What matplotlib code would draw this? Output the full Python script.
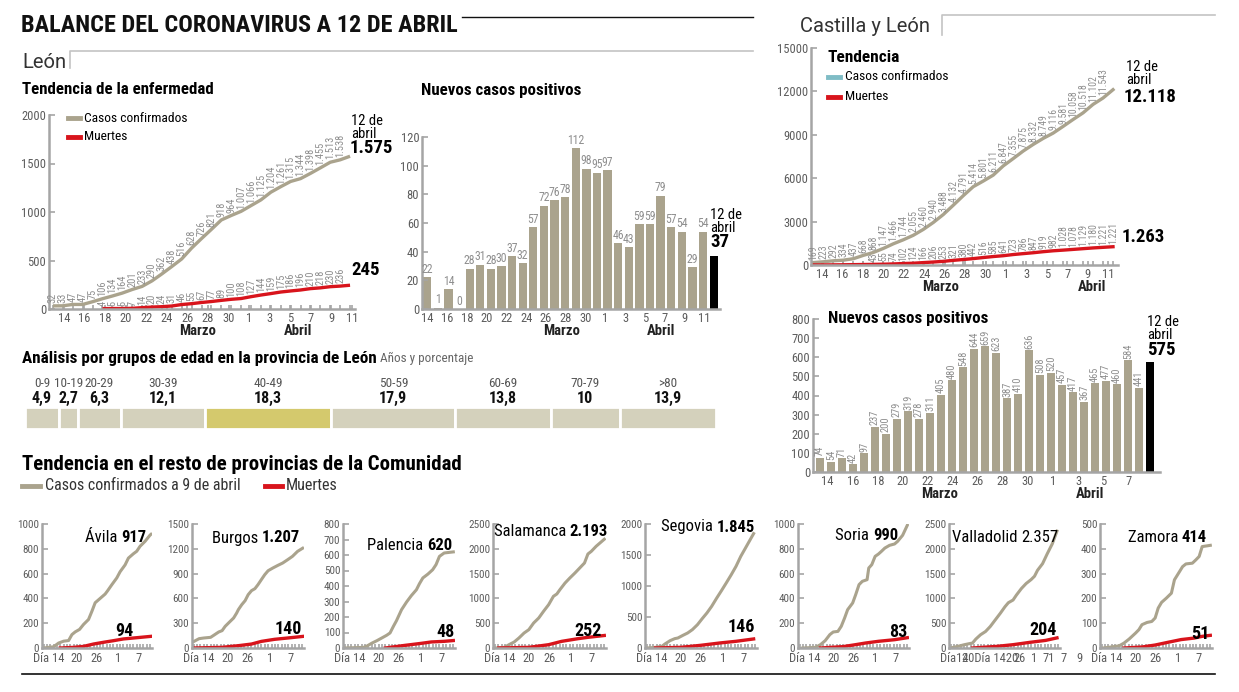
import numpy as np
import matplotlib
matplotlib.use("Agg")
import matplotlib.pyplot as plt
from matplotlib.lines import Line2D
import matplotlib.transforms as mtransforms

plt.rcParams['font.family'] = ['Roboto Condensed', 'Roboto', 'DejaVu Sans']

W, H = 1239, 692

GRAY = '#aaa38d'
RED = '#d8141c'
AXIS = '#a5a5a5'
TXT = '#5c5c5c'
LBL = '#8e8e8e'
TEAL = '#7fbcc5'

# ---- León: tendencia (13 marzo -> 12 abril)
leon_cases = [32, 33, 47, 47, 75, 106, 134, 164, 201, 233, 290, 362, 438, 516, 628, 726,
              821, 918, 964, 1007, 1066, 1125, 1204, 1261, 1315, 1344, 1398, 1455, 1513,
              1538, 1575]
leon_deaths = [4, 5, 5, 7, 14, 20, 24, 31, 46, 55, 67, 77, 89, 100, 108, 127, 144, 159,
               175, 186, 196, 210, 218, 230, 236, 245]
leon_days = ['14', '16', '18', '20', '22', '24', '26', '28', '30', '1', '3', '5', '7', '9', '11']

# ---- León: nuevos casos
leon_new = [22, 1, 14, 0, 28, 31, 28, 30, 37, 32, 57, 72, 76, 78, 112, 98, 95, 97, 46, 43,
            59, 59, 79, 57, 54, 29, 54, 37]

# ---- Castilla y León
cyl_cases = [169, 223, 292, 334, 437, 668, 868, 1147, 1466, 1744, 2055, 2460, 2940, 3488,
             4132, 4791, 5414, 5801, 6211, 6847, 7355, 7875, 8332, 8749, 9116, 9581, 10058,
             10518, 11102, 11543, 12118]
cyl_deaths = [3, 6, 10, 16, 24, 33, 43, 55, 74, 102, 124, 166, 206, 253, 321, 380, 442, 516,
              585, 641, 723, 786, 847, 919, 982, 1028, 1078, 1129, 1180, 1221, 1263]
cyl_death_tags = [43, 55, 74, 102, 124, 166, 206, 253, 321, 380, 442, 516, 585, 641, 723,
                  786, 847, 919, 982, 1028, 1078, 1129, 1180, 1221, 1221]
cyl_new = [74, 54, 71, 42, 97, 237, 200, 279, 319, 278, 311, 405, 480, 548, 644, 659, 623,
           387, 410, 636, 508, 520, 457, 417, 367, 465, 477, 460, 584, 441, 575]
cyl_bar_days = ['14', '16', '18', '20', '22', '24', '26', '28', '30', '1', '3', '5', '7']

# ---- grupos de edad
age_groups = ['0-9', '10-19', '20-29', '30-39', '40-49', '50-59', '60-69', '70-79', '>80']
age_pct = [4.9, 2.7, 6.3, 12.1, 18.3, 17.9, 13.8, 10, 13.9]

# ---- provincias (día 0 = 10 marzo)
provinces = [
    dict(name='Ávila', total='917', dead='94', ymax=1000, step=200,
         cx=[0, 3, 4.5, 6, 7.5, 8.5, 9.5, 10.8, 12, 13.5, 14.5, 15.5, 17, 18.5, 19.2, 20.5, 22,
             23, 24.5, 25.5, 27, 28, 29, 30.5, 32, 32.3],
         cy=[0, 10, 40, 55, 60, 108, 130, 150, 190, 230, 295, 365, 400, 435, 460, 510, 565,
             615, 670, 725, 760, 780, 820, 860, 910, 917],
         dx=[5, 9, 12, 15, 18, 21, 24, 28, 32.3],
         dy=[0, 5, 13, 32, 46, 59, 73, 83, 94]),
    dict(name='Burgos', total='1.207', dead='140', ymax=1500, step=300,
         cx=[0.1, 1.6, 3, 5, 5.9, 7.4, 8.4, 9.3, 10.8, 11.8, 12.7, 13.2, 14.2, 15.2, 16.1, 17.1,
             18.1, 19, 20, 21, 22, 23.4, 24.9, 26.3, 27.8, 29.2, 30.7, 32.2],
         cy=[80, 113, 121, 129, 153, 194, 210, 262, 323, 363, 423, 464, 524, 573, 645, 694,
             718, 766, 827, 887, 935, 968, 1000, 1028, 1069, 1109, 1169, 1207],
         dx=[0, 8.4, 13.2, 17.1, 20, 23.9, 27.8, 32.2],
         dy=[0, 8, 28, 48, 80, 105, 121, 140]),
    dict(name='Palencia', total='620', dead='48', ymax=800, step=100,
         cx=[0, 5.6, 6.6, 8.1, 9.5, 11, 12.4, 13.4, 14.4, 15.3, 16.8, 18.3, 19.7, 21.2, 22.1,
             23.1, 24.6, 26, 27, 28, 29.4, 32.1],
         cy=[0, 4, 13, 32, 47, 65, 82, 97, 140, 176, 247, 297, 338, 376, 415, 452, 477, 505,
             538, 591, 613, 620],
         dx=[12, 17.8, 22.6, 25.6, 29.4, 32.1],
         dy=[0, 17, 30, 39, 43, 48]),
    dict(name='Salamanca', total='2.193', dead='252', ymax=2500, step=500,
         cx=[0.2, 2.8, 4.2, 5.7, 7.1, 8.6, 10, 11.4, 12.9, 14.3, 15.8, 17.2, 18.2, 19.1, 20.6,
             22, 23.5, 24.9, 26.3, 27.3, 28.3, 29.7, 32.1],
         cy=[0, 13, 67, 121, 202, 302, 370, 504, 605, 739, 874, 1042, 1089, 1176, 1310, 1411,
             1512, 1613, 1714, 1895, 1949, 2050, 2193],
         dx=[1.2, 10, 15.8, 19.6, 24.4, 27.3, 32.1],
         dy=[0, 13, 67, 134, 188, 215, 252]),
    dict(name='Segovia', total='1.845', dead='146', ymax=2000, step=500,
         cx=[0.2, 2.6, 4.5, 5.4, 6.9, 8.3, 9.2, 10.7, 12.1, 13.5, 15, 16.4, 17.8, 19.2, 20.7,
             22.1, 23.5, 25, 26.4, 27.8, 29.2, 31.6],
         cy=[0, 11, 27, 65, 118, 151, 161, 204, 242, 296, 376, 473, 565, 672, 806, 925, 1048,
             1183, 1317, 1478, 1613, 1845],
         dx=[2.6, 10.2, 15.9, 21.6, 26.4, 31.6],
         dy=[0, 11, 43, 81, 108, 146]),
    dict(name='Soria', total='990', dead='83', ymax=1000, step=200,
         cx=[0.9, 4.7, 6.2, 7.6, 9, 10, 11.4, 12.4, 13.4, 14.3, 15.8, 16.7, 17.7, 18.7, 20.1,
             20.6, 21.5, 22.5, 23.5, 24.4, 25.4, 26.8, 28.3, 29.2, 30.7, 32.1],
         cy=[0, 5, 27, 59, 108, 129, 134, 175, 242, 309, 363, 430, 511, 538, 551, 645, 672,
             739, 758, 780, 806, 828, 839, 860, 909, 990],
         dx=[6.2, 12.9, 16.7, 19.6, 23.5, 28.3, 32.1],
         dy=[0, 11, 27, 40, 54, 67, 83]),
    dict(name='Valladolid', total='2.357', dead='204', ymax=2500, step=500,
         cx=[0, 2.1, 4.1, 5.5, 6.5, 7.5, 8.9, 10.4, 11.8, 13.3, 14.8, 16.2, 17.2, 18.6, 19.6,
             21.1, 22.5, 24, 25, 25.9, 27.4, 28.8, 30.3, 31.7],
         cy=[0, 33, 67, 87, 100, 180, 267, 333, 433, 567, 700, 833, 913, 967, 1067, 1200,
             1300, 1380, 1447, 1567, 1700, 1900, 2100, 2357],
         dx=[6.5, 13.8, 18.6, 23.5, 28.3, 31.7],
         dy=[0, 33, 67, 113, 153, 204]),
    dict(name='Zamora', total='414', dead='51', ymax=500, step=100,
         cx=[0.4, 2.8, 5.2, 6.6, 8.1, 10, 11, 11.9, 13.4, 14.8, 15.8, 16.7, 17.7, 19.1, 20.6,
             21.5, 23, 23.9, 24.9, 26.8, 27.8, 28.8, 29.7, 31.2, 32.1],
         cy=[0, 4, 9, 20, 36, 60, 74, 94, 103, 107, 121, 161, 184, 201, 221, 275, 308, 328,
             339, 342, 355, 369, 409, 412, 414],
         dx=[6.6, 11.9, 15.8, 19.6, 23.5, 27.3, 29.7, 32.1],
         dy=[0, 4, 12, 23, 34, 40, 47, 51]),
]
prov_ticks = ['Día 14', '20', '26', '1', '7']
vall_ticks = ['Día14', '20Día 1420', '26', '1', '71', '7', '9']


def fmt(v):
    return f"{v:,}".replace(',', '.')


fig = plt.figure(figsize=(W / 100, H / 100), dpi=100)


def ax_px(x0, y0, x1, y1):
    return fig.add_axes([x0 / W, 1 - y1 / H, (x1 - x0) / W, (y1 - y0) / H])


def ftext(x, y, s, **kw):
    return fig.text(x / W, 1 - y / H, s, **kw)


def fline(xs, ys, **kw):
    fig.add_artist(Line2D([x / W for x in xs], [1 - y / H for y in ys], **kw))


def style(ax, ysize=9):
    for s in ['top', 'right']:
        ax.spines[s].set_visible(False)
    for s in ['left', 'bottom']:
        ax.spines[s].set_color(AXIS)
        ax.spines[s].set_linewidth(1.8)
    ax.tick_params(axis='y', direction='in', length=4, width=1.2, color=AXIS,
                   labelsize=ysize, labelcolor=TXT, pad=2)
    ax.tick_params(axis='x', which='both', direction='in', length=3, width=1.2, color=AXIS,
                   labelsize=9, labelcolor=TXT, pad=2)
    ax.patch.set_alpha(0)


def month_labels(ax, pos):
    tr = mtransforms.blended_transform_factory(ax.transData, ax.transAxes)
    for x, s in pos:
        ax.annotate(s, xy=(x, 0), xycoords=tr, xytext=(0, -10.5), textcoords='offset points',
                    ha='center', va='top', fontsize=10.5, fontweight='bold', color='#222222')


# ---------------- cabeceras
ftext(21, 25, 'BALANCE DEL CORONAVIRUS A 12 DE ABRIL', fontsize=17.5, fontweight='bold',
      va='center', color='#111111')
fline([462, 753], [17, 17], color='#111111', lw=1)
ftext(22, 62, 'León', fontsize=14.5, va='center', color='#333333', family='Roboto')
fline([70, 70, 753], [68, 51, 51], color='#c4c4c4', lw=1.2)
ftext(800, 27, 'Castilla y León', fontsize=14.5, va='center', color='#333333', family='Roboto')
fline([942, 942, 1215], [35, 15, 15], color='#c4c4c4', lw=1.2)

# ---------------- León: tendencia
ftext(22, 90, 'Tendencia de la enfermedad', fontsize=12.2, fontweight='bold', va='center')
ax = ax_px(49, 115, 355, 309)
style(ax)
xc = np.arange(len(leon_cases))
xd = np.arange(len(leon_cases) - len(leon_deaths), len(leon_cases))
ax.plot(xc, leon_cases, color=GRAY, lw=2.4, solid_capstyle='butt')
ax.plot(xd, leon_deaths, color=RED, lw=2.4, solid_capstyle='butt')
for x, v in zip(xc[:-1], leon_cases[:-1]):
    ax.annotate(fmt(v), (x, v), xytext=(0, 2), textcoords='offset points', rotation=90,
                ha='center', va='bottom', fontsize=7.5, color=LBL)
for x, v in zip(xd[:-1], leon_deaths[:-1]):
    ax.annotate(fmt(v), (x, v), xytext=(0, 2), textcoords='offset points', rotation=90,
                ha='center', va='bottom', fontsize=7.5, color=LBL)
ax.set_xlim(-0.4, 30.5)
ax.set_ylim(0, 2000)
ax.set_yticks([0, 500, 1000, 1500, 2000])
ax.set_xticks(np.linspace(1.1, 30.2, len(leon_days)))
ax.set_xticklabels(leon_days)
ax.set_xticks(xc, minor=True)
month_labels(ax, [(14.6, 'Marzo'), (24.7, 'Abril')])
fline([68, 80], [118, 118], color=GRAY, lw=3.5)
ftext(84, 118, 'Casos confirmados', fontsize=9.7, va='center')
fline([68, 80], [137, 137], color=RED, lw=3.5)
ftext(84, 137, 'Muertes', fontsize=9.7, va='center')
ftext(351, 121, '12 de', fontsize=10.5, va='center')
ftext(351, 134, 'abril', fontsize=10.5, va='center')
ftext(350, 148, fmt(leon_cases[-1]), fontsize=13.5, fontweight='bold', va='center')
ftext(351, 270, fmt(leon_deaths[-1]), fontsize=13.5, fontweight='bold', va='center')

# ---------------- León: nuevos casos
ftext(421, 90, 'Nuevos casos positivos', fontsize=12.2, fontweight='bold', va='center')
ax = ax_px(422, 137, 720, 309)
style(ax)
xb = np.arange(len(leon_new))
cols = [GRAY] * (len(leon_new) - 1) + ['black']
ax.bar(xb, leon_new, width=0.78, color=cols)
for x, v in zip(xb[:-1], leon_new[:-1]):
    ax.annotate(str(v), (x, v), xytext=(0, 1), textcoords='offset points', ha='center',
                va='bottom', fontsize=8.5, color=LBL)
ax.set_xlim(-0.5, 27.6)
ax.set_ylim(0, 120)
ax.set_yticks(range(0, 121, 20))
ax.set_xticks(np.linspace(0, 26.1, len(leon_days)))
ax.set_xticklabels(leon_days)
ax.tick_params(axis='x', length=0)
month_labels(ax, [(12.7, 'Marzo'), (22, 'Abril')])
ftext(710, 215, '12 de', fontsize=10.5, va='center')
ftext(710, 228, 'abril', fontsize=10.5, va='center')
ftext(710, 242, str(leon_new[-1]), fontsize=13.5, fontweight='bold', va='center')

# ---------------- grupos de edad
t = ftext(22, 358, 'Análisis por grupos de edad en la provincia de León', fontsize=12.3,
          fontweight='bold', va='center')
fig.canvas.draw()
plt.annotate(' Años y porcentaje', xy=(1, 0.5), xycoords=t, fontsize=9.5, va='center',
             color='#666666', annotation_clip=False)
ax = ax_px(25, 407, 716, 429)
left = np.concatenate([[0], np.cumsum(age_pct)[:-1]])
acol = ['#d4d1bc'] * len(age_pct)
acol[age_groups.index('40-49')] = '#d4c96d'
ax.barh(0, age_pct, left=left, height=1, color=acol, edgecolor='white', linewidth=2)
ax.set_xlim(0, sum(age_pct))
ax.set_ylim(-0.5, 0.5)
ax.axis('off')
for g, p, l in zip(age_groups, age_pct, left):
    ax.text(l + p / 2, 1.57, g, ha='center', va='center', fontsize=9.5, color='#555555')
    ax.text(l + p / 2, 0.9, fmt(p).replace('.', ','), ha='center', va='center',
            fontsize=11.5, fontweight='bold', color='#111111')

# ---------------- Castilla y León: tendencia
ax = ax_px(811, 48, 1118, 265)
style(ax)
xc = np.arange(len(cyl_cases))
ax.plot(xc, cyl_cases, color=GRAY, lw=2.4)
ax.plot(xc, cyl_deaths, color=RED, lw=2.4)
for x, v in zip(xc[:-1], cyl_cases[:-1]):
    ax.annotate(fmt(v), (x, v), xytext=(0, 2), textcoords='offset points', rotation=90,
                ha='center', va='bottom', fontsize=7, color=LBL)
for x, s in zip(range(len(cyl_deaths) - len(cyl_death_tags), len(cyl_deaths)), cyl_death_tags):
    ax.annotate(fmt(s), (x, cyl_deaths[x]), xytext=(0, 2), textcoords='offset points',
                rotation=90, ha='center', va='bottom', fontsize=7, color=LBL)
ax.set_xlim(-0.25, 30.5)
ax.set_ylim(0, 15000)
ax.set_yticks(range(0, 15001, 3000))
ax.set_xticks(np.linspace(0.87, 29.5, len(leon_days)))
ax.set_xticklabels(leon_days)
ax.set_xticks(xc, minor=True)
month_labels(ax, [(12.7, 'Marzo'), (27.9, 'Abril')])
ftext(828, 57, 'Tendencia', fontsize=12.5, fontweight='bold', va='center')
fline([828, 840], [77, 77], color=TEAL, lw=3.5)
ftext(845, 77, 'Casos confirmados', fontsize=9.7, va='center')
fline([828, 840], [97, 97], color=RED, lw=3.5)
ftext(845, 97, 'Muertes', fontsize=9.7, va='center')
ftext(1126, 67, '12 de', fontsize=10.5, va='center')
ftext(1126, 80, 'abril', fontsize=10.5, va='center')
ftext(1124, 97, fmt(cyl_cases[-1]), fontsize=13.5, fontweight='bold', va='center')
ftext(1122, 237, fmt(cyl_deaths[-1]), fontsize=13.5, fontweight='bold', va='center')

# ---------------- Castilla y León: nuevos casos
ax = ax_px(813, 319, 1160, 472)
style(ax)
xb = np.arange(len(cyl_new))
cols = [GRAY] * (len(cyl_new) - 1) + ['black']
ax.bar(xb, cyl_new, width=0.76, color=cols)
for x, v in zip(xb[:-1], cyl_new[:-1]):
    ax.annotate(str(v), (x, v), xytext=(0, 1), textcoords='offset points', rotation=90,
                ha='center', va='bottom', fontsize=7.5, color=LBL)
ax.set_xlim(-0.64, 30.9)
ax.set_ylim(0, 800)
ax.set_yticks(range(0, 801, 100))
ax.set_xticks(np.linspace(0.7, 28, len(cyl_bar_days)))
ax.set_xticklabels(cyl_bar_days)
ax.tick_params(axis='x', length=0)
month_labels(ax, [(10.9, 'Marzo'), (24.5, 'Abril')])
ftext(828, 318, 'Nuevos casos positivos', fontsize=12.2, fontweight='bold', va='center')
ftext(1147, 322, '12 de', fontsize=10.5, va='center')
ftext(1147, 335, 'abril', fontsize=10.5, va='center')
ftext(1147, 350, str(cyl_new[-1]), fontsize=13.5, fontweight='bold', va='center')

# ---------------- resto de provincias
ftext(22, 465, 'Tendencia en el resto de provincias de la Comunidad', fontsize=15,
      fontweight='bold', va='center')
fline([22, 40], [486, 486], color=GRAY, lw=3.5)
ftext(45, 486, 'Casos confirmados a 9 de abril', fontsize=11.5, va='center', color='#333333')
fline([265, 282], [486, 486], color=RED, lw=3.5)
ftext(286, 486, 'Muertes', fontsize=11.5, va='center', color='#333333')

panel_x = [(42, 152), (192, 304), (343, 455), (493, 606), (645, 757), (798, 909),
           (949, 1060), (1100, 1212)]
title_pos = [(146, 538), (300, 538), (452, 545), (608, 532), (755, 527), (898, 535),
             (1058, 538), (1207, 538)]
dead_pos = [(133, 631), (302, 629), (455, 632), (602, 631), (755, 627), (907, 632),
            (1057, 630), (1209, 634)]
for p, (x0, x1), (tx, ty), (dxp, dyp) in zip(provinces, panel_x, title_pos, dead_pos):
    ax = ax_px(x0, 524, x1, 648)
    style(ax, ysize=8)
    ax.plot(p['cx'], p['cy'], color=GRAY, lw=2.2)
    ax.plot(p['dx'], p['dy'], color=RED, lw=2.4)
    ax.set_xlim(-0.5, 32.6)
    ax.set_ylim(0, p['ymax'])
    ax.set_yticks(range(0, p['ymax'] + 1, p['step']))
    ax.set_xticks(np.arange(0, 33), minor=True)
    ax.set_xticks([])
    tr = mtransforms.blended_transform_factory(ax.transData, ax.transAxes)
    if p['name'] == 'Valladolid':
        labs = list(zip([1.2, 11.8, 20.4, 25, 29.3, 33.7, 38.5], vall_ticks))
    else:
        labs = list(zip([1.5, 10, 16, 22.5, 28.5], prov_ticks))
    for x, s in labs:
        ax.text(x, -0.03, s, transform=tr, ha='center', va='top', fontsize=9, color=TXT,
                clip_on=False)
    bold = p['name'] != 'Valladolid'
    tn = ftext(tx, ty, p['total'], fontsize=12, fontweight='bold' if bold else 'normal',
               ha='right', va='center')
    fig.canvas.draw()
    plt.annotate(p['name'] + ' ', xy=(0, 0.5), xycoords=tn, ha='right', va='center',
                 fontsize=12, annotation_clip=False)
    ftext(dxp, dyp, p['dead'], fontsize=13, fontweight='bold', ha='right', va='center')

fline([22, 1215], [674, 674], color='#111111', lw=1.2)

fig.savefig('out.png', dpi=100)
